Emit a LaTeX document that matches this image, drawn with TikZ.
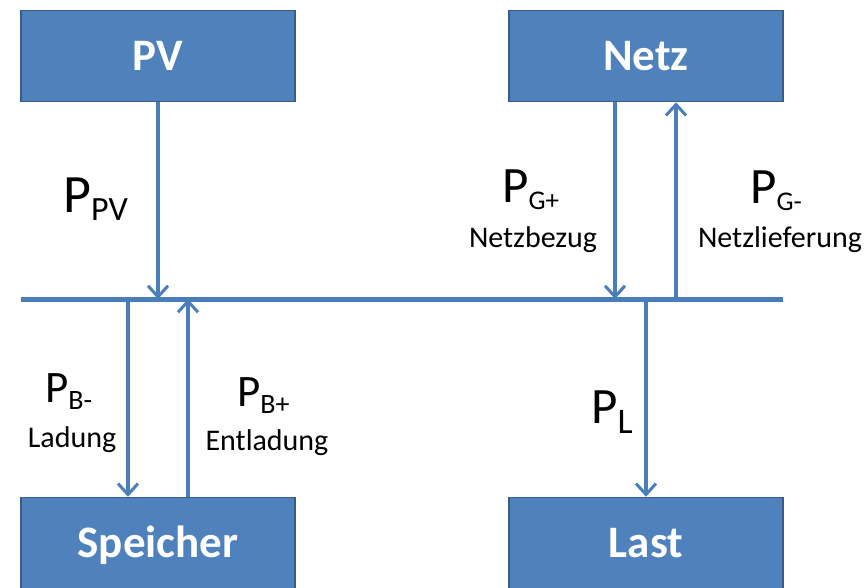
\documentclass[tikz,border=0pt]{standalone}
\usepackage{fontspec}
\setmainfont{Carlito}
\usetikzlibrary{arrows.meta}
\definecolor{boxblue}{HTML}{4F81BD}
\definecolor{boxrim}{HTML}{385D8A}
\definecolor{flowblue}{HTML}{4A7EBB}
% P with a lowered index: size of P, size of index, index, drop
\newcommand{\psym}[4]{\fontsize{#1}{#1}\selectfont P\raisebox{-#4pt}{\fontsize{#2}{#2}\selectfont #3}}
\tikzset{
  unit/.style={draw=boxrim, line width=1.5pt, fill=boxblue, minimum width=274pt,
    minimum height=91pt, inner sep=0pt, text=white, text height=29pt, text depth=0pt,
    font=\fontsize{45}{45}\selectfont\bfseries},
  bus/.style={draw=flowblue, line width=5pt},
  flow/.style={draw=flowblue, line width=3.5pt,
    -{Straight Barb[length=11pt,width=20pt,line width=3pt]}},
  lbl/.style={inner sep=0pt, anchor=base west},
  note/.style={inner sep=0pt, anchor=base, font=\fontsize{30}{30}\selectfont}
}
\begin{document}
\begin{tikzpicture}[x=1pt,y=-1pt]
\useasboundingbox (0,0) rectangle (864,587);
% boxes
\node[unit] (pv) at (158,56) {PV};
\node[unit] (netz) at (646,56) {Netz};
\node[unit] (speicher) at (158,543) {Speicher};
\node[unit] (last) at (646,543) {Last};
% bus
\coordinate (busL) at (21,299);
\coordinate (busR) at (783,299);
\draw[bus] (busL) -- (busR);
% flows
\draw[flow] (pv.south) -- (pv.south |- busL);
\draw[flow] ([xshift=-31pt]netz.south) -- ([xshift=-31pt]netz.south |- busL);
\draw[flow] ([xshift=30pt]netz.south |- busL) -- ([xshift=30pt]netz.south);
\draw[flow] ([xshift=-30pt]speicher.north |- busL) -- ([xshift=-30pt]speicher.north);
\draw[flow] ([xshift=30pt]speicher.north) -- ([xshift=30pt]speicher.north |- busL);
\draw[flow] (last.north |- busL) -- (last.north);
% labels
\node[lbl] (ppv) at (63,212) {\psym{54}{34}{PV}{8}};
\node[lbl] (pgin) at (502,202) {\psym{51}{27}{G+}{7}};
\node[note] (bezug) at (533,247) {Netzbezug};
\node[lbl] (pgout) at (750,203) {\psym{51}{27}{G-}{7}};
\node[note] (liefer) at (780,247) {Netzlieferung};
\node[lbl] (pbin) at (45,402) {\psym{45}{28}{B-}{7}};
\node[note] (laden) at (72,447) {Ladung};
\node[lbl] (pbout) at (237,406) {\psym{45}{28}{B+}{7}};
\node[note] (entladen) at (267,450) {Entladung};
\node[lbl] (pl) at (591,423) {\psym{51}{36}{L}{10}};
\end{tikzpicture}
\end{document}
